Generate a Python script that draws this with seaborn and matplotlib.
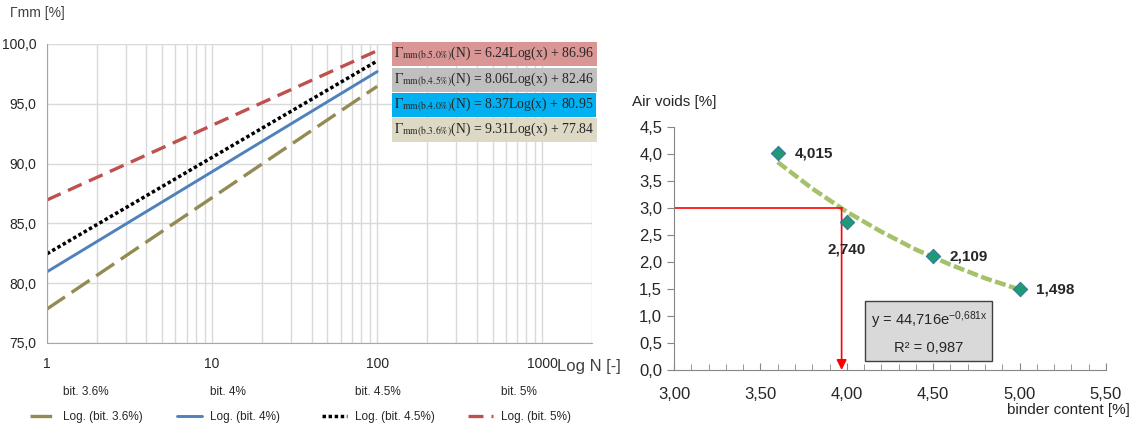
import matplotlib
matplotlib.use("Agg")
import matplotlib.pyplot as plt
import matplotlib.ticker as mticker
from matplotlib.lines import Line2D
import seaborn as sns

# left chart: log trend lines, values at N = 1 and N = 100
n_ends = [1, 100]
gamma_b36 = [77.84, 96.46]
gamma_b40 = [80.95, 97.69]
gamma_b45 = [82.46, 98.58]
gamma_b50 = [86.96, 99.44]
series_names = ["bit. 3.6%", "bit. 4%", "bit. 4.5%", "bit. 5%"]
eq_labels = [
    r"$\Gamma_{\mathrm{mm(b.\!5.0\%)}}$(N) = 6.24Log(x) + 86.96",
    r"$\Gamma_{\mathrm{mm(b.\!4.5\%)}}$(N) = 8.06Log(x) + 82.46",
    r"$\Gamma_{\mathrm{mm(b.\!4.0\%)}}$(N) = 8.37Log(x) + 80.95",
    r"$\Gamma_{\mathrm{mm(b.\!3.6\%)}}$(N) = 9.31Log(x) + 77.84",
]
left_yticks = [75, 80, 85, 90, 95, 100]
left_xticks = [1, 10, 100, 1000]

# right chart: air voids vs binder content
binder = [3.6, 4.0, 4.5, 5.0]
air_voids = [4.015, 2.740, 2.109, 1.498]
trend_x = [3.6, 3.8, 4.0, 4.2, 4.4, 4.6, 4.8, 5.0]
trend_y = [3.85, 3.36, 2.93, 2.56, 2.23, 1.95, 1.70, 1.49]
target_voids = 3.0
target_binder = 3.97
right_yticks = [0.0, 0.5, 1.0, 1.5, 2.0, 2.5, 3.0, 3.5, 4.0, 4.5]
right_xticks = [3.0, 3.5, 4.0, 4.5, 5.0, 5.5]

sns.set_style("white")
plt.rcParams["font.family"] = ["Liberation Sans", "DejaVu Sans"]
plt.rcParams["mathtext.fontset"] = "stix"

OLIVE = "#948a54"
BLUE = "#4f81bd"
RED = "#c0504d"
GRID = "#d9d9d9"
AXIS = "#a6a6a6"
W, H = 1134, 425


def comma(fmt):
    return mticker.FuncFormatter(lambda v, _: format(v, fmt).replace(".", ","))


fig = plt.figure(figsize=(11.34, 4.25), dpi=100)

# ---------------- left chart ----------------
ax1 = fig.add_axes([47 / W, 0.193, 545 / W, 0.7035])
styles = [
    dict(color=OLIVE, lw=2.4, linestyle=(0, (6.5, 2.4))),
    dict(color=BLUE, lw=2.1),
    dict(color="black", lw=2.5, linestyle=(0, (1, 0.75))),
    dict(color=RED, lw=2.4, linestyle=(0, (4.5, 2.4))),
]
for vals, st in zip([gamma_b36, gamma_b40, gamma_b45, gamma_b50], styles):
    sns.lineplot(x=n_ends, y=vals, ax=ax1, **st)

ax1.set_xscale("log")
ax1.set_xlim(1, 2000)
ax1.set_ylim(75, 100)
ax1.set_xticks(left_xticks)
ax1.xaxis.set_major_formatter(mticker.FuncFormatter(lambda v, _: f"{v:g}"))
ax1.xaxis.set_minor_locator(mticker.LogLocator(base=10, subs=range(2, 10)))
ax1.xaxis.set_minor_formatter(mticker.NullFormatter())
ax1.set_yticks(left_yticks)
ax1.yaxis.set_major_formatter(comma(".1f"))
ax1.grid(True, which="both", color=GRID, lw=1)
ax1.set_axisbelow(True)
for s in ["top", "right"]:
    ax1.spines[s].set_visible(False)
for s in ["left", "bottom"]:
    ax1.spines[s].set_color(AXIS)
ax1.tick_params(axis="both", which="major", labelsize=10, colors="#262626",
                length=4, color=AXIS)
ax1.tick_params(axis="x", which="major", pad=6)
ax1.tick_params(axis="x", which="minor", length=0)
ax1.set_xlabel("")
ax1.set_ylabel("")

box_colors = ["#da9694", "#bfbfbf", "#00b0f0", "#ddd9c4"]
box_y = [0.9666, 0.8796, 0.796, 0.7124]
for label, fc, yy in zip(eq_labels, box_colors, box_y):
    ax1.text((394 - 47) / 545, yy, label, transform=ax1.transAxes, ha="left",
             va="center", fontsize=9.9, family="Liberation Serif", color="#262626",
             bbox=dict(boxstyle="square,pad=0.18", fc=fc, ec="none"))

fig.text(10 / W, 1 - 13 / H, "Γmm [%]", fontsize=10, color="#404040", va="center")
fig.text(557 / W, 1 - 367 / H, "Log N [-]", fontsize=12, color="#404040", va="center")

# legend: one small legend per column so the columns sit where Excel put them
col_x = [30, 177, 322, 468]
for name, st, x0 in zip(series_names, styles, col_x):
    fig.legend([Line2D([], [], linestyle="none"), Line2D([], [], **st)],
               [name, f"Log. ({name})"], loc="lower left",
               bbox_to_anchor=(x0 / W, 2 / H), frameon=False, fontsize=8.5,
               handlelength=2.1, handletextpad=0.7, labelspacing=1.1,
               borderpad=0, borderaxespad=0, labelcolor="#262626")

# ---------------- right chart ----------------
ax2 = fig.add_axes([674 / W, 0.1294, 432 / W, 0.5718])
sns.lineplot(x=trend_x, y=trend_y, ax=ax2, color="#9bbb59", lw=3.2,
             linestyle=(0, (2.5, 0.8)), alpha=0.9)
sns.scatterplot(x=binder, y=air_voids, ax=ax2, marker="D", s=55,
                color="#1f9a74", edgecolor="#2f6f9f", linewidth=0.6, zorder=4)

ax2.plot([3.0, target_binder], [target_voids, target_voids], color="red", lw=1.2)
ax2.annotate("", xy=(target_binder, 0.0), xytext=(target_binder, target_voids),
             arrowprops=dict(arrowstyle="-|>,head_length=0.6,head_width=0.3",
                             color="red", lw=1.2, shrinkA=0, shrinkB=0))

label_offsets = [(12, 0, "left", "center"), (0, -15, "center", "top"),
                 (12, 0, "left", "center"), (12, 0, "left", "center")]
for bx, av, (dx, dy, ha, va) in zip(binder, air_voids, label_offsets):
    ax2.annotate(f"{av:.3f}".replace(".", ","), (bx, av), xytext=(dx, dy),
                 textcoords="offset points", ha=ha, va=va, fontsize=11,
                 fontweight="bold", color="#262626")

ax2.text(4.475, 0.70, "y = 44,716e$^{\\mathregular{-0{,}681x}}$\n\nR² = 0,987",
         ha="center", va="center", fontsize=10.6, color="#262626", linespacing=0.85,
         bbox=dict(boxstyle="square,pad=0.35", fc="#d9d9d9", ec="#404040", lw=1))

ax2.set_xlim(3.0, 5.5)
ax2.set_ylim(0, 4.5)
ax2.set_xticks(right_xticks)
ax2.set_yticks(right_yticks)
ax2.xaxis.set_major_formatter(comma(".2f"))
ax2.yaxis.set_major_formatter(comma(".1f"))
ax2.xaxis.set_minor_locator(mticker.MultipleLocator(0.1))
for s in ["top", "right"]:
    ax2.spines[s].set_visible(False)
for s in ["left", "bottom"]:
    ax2.spines[s].set_color("#868686")
ax2.tick_params(axis="y", which="major", direction="out", length=5, color="#868686",
                labelsize=12, labelcolor="#262626", left=True)
ax2.tick_params(axis="x", which="major", direction="in", length=5, color="#868686",
                labelsize=12, labelcolor="#262626", pad=12, bottom=True)
ax2.tick_params(axis="x", which="minor", direction="in", length=4, color="#868686",
                bottom=True)
ax2.set_xlabel("")
ax2.set_ylabel("")

fig.text(632 / W, 1 - 102 / H, "Air voids [%]", fontsize=11, color="#262626",
         va="center")
fig.text(1130 / W, 1 - 410 / H, "binder content [%]", fontsize=11,
         color="#262626", va="center", ha="right")

fig.savefig("out.png", dpi=100)
